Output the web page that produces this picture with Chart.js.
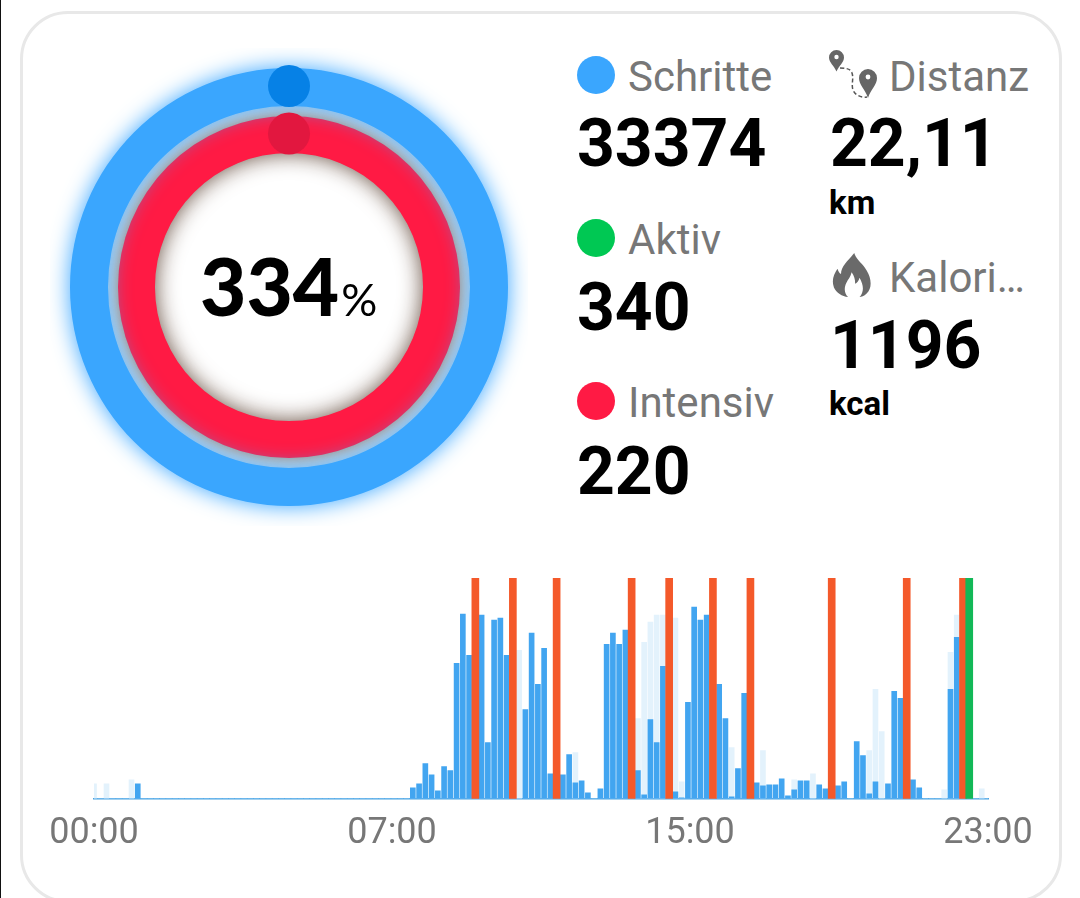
<!DOCTYPE html>
<html>
<head>
<meta charset="utf-8">
<title>Aktivitaet</title>
<script src="https://cdn.jsdelivr.net/npm/chart.js@4"></script>
<style>
    html, body { margin: 0; padding: 0; width: 1080px; height: 898px; overflow: hidden; background: #fff; font-family: Roboto, sans-serif; }
    .edge { position: absolute; top: 0; left: 0; width: 1px; height: 898px; background: #111; }
    .card { position: absolute; left: 20px; top: 11px; width: 1036px; height: 886px; border: 3px solid #e8e8e8; border-radius: 48px; }
    canvas { position: absolute; }
    .t { position: absolute; white-space: nowrap; line-height: 1; }
    .label { font-size: 42px; color: #777; }
    .value { font-size: 66px; font-weight: 700; color: #000; }
    .unit { font-size: 33px; font-weight: 700; color: #000; }
    .dot { position: absolute; width: 38px; height: 38px; border-radius: 50%; }
    .center { font-family: Lato, sans-serif; font-weight: 900; color: #000; }
</style>
</head>
<body>
<div class="edge"></div>
<div class="card"></div>
<canvas id="ringChart" width="478" height="478" style="left:50px;top:47.5px"></canvas>
<canvas id="stepChart" width="1080" height="320" style="left:0;top:560px"></canvas>

<div class="t center" style="left:200px;top:245px;font-size:80px">334<span style="font-size:45px;font-weight:400;margin-left:2px">%</span></div>

<div class="dot" style="left:577px;top:56px;background:#3aa6fe"></div>
<div class="t label" style="left:628px;top:56px">Schritte</div>
<div class="t value" style="left:577px;top:111px">33374</div>

<div class="dot" style="left:577px;top:219px;background:#00c853"></div>
<div class="t label" style="left:628px;top:219px">Aktiv</div>
<div class="t value" style="left:577px;top:275px">340</div>

<div class="dot" style="left:577px;top:382px;background:#ff1a44"></div>
<div class="t label" style="left:628px;top:382px">Intensiv</div>
<div class="t value" style="left:577px;top:439px">220</div>

<svg style="position:absolute;left:826px;top:48px" width="56" height="54" viewBox="0 0 56 54">
    <path d="M10.5 2a7.5 7.5 0 0 1 7.5 7.5c0 5-5 8-7.5 14c-2.5-6-7.5-9-7.5-14a7.5 7.5 0 0 1 7.5-7.5z" fill="#666"/>
    <circle cx="10.5" cy="9" r="2.2" fill="#fff"/>
    <path d="M42 21a9 9 0 0 1 9 9c0 7-6 11-9 20c-3-9-9-13-9-20a9 9 0 0 1 9-9z" fill="#666"/>
    <circle cx="42" cy="29" r="2.4" fill="#fff"/>
    <path d="M14 20c6 0 11 1 12 5c2 6-1 11 1 17c2 5 8 8 14 7" fill="none" stroke="#555" stroke-width="1.5" stroke-dasharray="4 2.5"/>
</svg>
<div class="t label" style="left:889px;top:56px">Distanz</div>
<div class="t value" style="left:830px;top:111px">22,11</div>
<div class="t unit" style="left:829px;top:186px">km</div>

<svg style="position:absolute;left:832px;top:252px" width="41" height="46" viewBox="0 0 46 52">
    <path d="M25 1c2 8 10 12 14 20c6 10 6 20 0 26c-3 3-6 4-8 4c5-6 5-13 0-22c-1 4-3 6-5 7c0-5-1-9-4-13c-1 5-4 8-6 12c-3 6-2 12 2 16c-7-1-13-5-16-11c-3-8 0-15 4-21c1 3 2 5 4 6c0-9 8-15 15-24z" fill="#6a6a6a"/>
</svg>
<div class="t label" style="left:889px;top:257px">Kalori…</div>
<div class="t value" style="left:830px;top:313px">1196</div>
<div class="t unit" style="left:829px;top:387px">kcal</div>

<script>
// Ring values (percent of goal, capped to a full circle) and the spacer between the rings
const rings = { steps: 334, intense: 220 };

// Steps per 10 minutes, 144 slots
const steps = [
    0, 0, 0, 0, 0, 0, 0, 15, 0, 0, 0, 0,
    0, 0, 0, 0, 0, 0, 0, 0, 0, 0, 0, 0,
    0, 0, 0, 0, 0, 0, 0, 0, 0, 0, 0, 0,
    0, 0, 0, 0, 0, 0, 0, 0, 0, 0, 0, 0,
    0, 0, 0, 11, 15, 35, 24, 8, 32, 28, 135, 184,
    143, 0, 183, 56, 178, 180, 143, 0, 0, 89, 165, 114,
    150, 25, 0, 24, 44, 16, 18, 6, 0, 10, 154, 165,
    154, 168, 0, 28, 4, 79, 56, 132, 0, 7, 1, 96,
    191, 178, 183, 0, 114, 80, 2, 30, 105, 0, 16, 13,
    14, 14, 20, 3, 9, 18, 18, 0, 14, 10, 0, 13,
    17, 0, 57, 43, 5, 17, 0, 15, 107, 100, 0, 19,
    11, 0, 0, 0, 0, 109, 161, 0, 0, 0, 0, 0
];
const paleSteps = [
    15, 0, 15, 0, 0, 0, 19, 0, 0, 0, 0, 0,
    0, 0, 0, 0, 0, 0, 0, 0, 0, 0, 0, 0,
    0, 0, 0, 0, 0, 0, 0, 0, 0, 0, 0, 0,
    0, 0, 0, 0, 0, 0, 0, 0, 0, 0, 0, 0,
    0, 0, 0, 0, 0, 0, 0, 0, 0, 0, 0, 0,
    0, 0, 0, 0, 0, 0, 0, 0, 148, 0, 0, 0,
    0, 0, 0, 0, 0, 46, 0, 0, 0, 0, 0, 0,
    0, 0, 0, 80, 156, 176, 183, 183, 0, 180, 17, 0,
    0, 0, 0, 0, 0, 0, 51, 0, 0, 0, 0, 48,
    0, 0, 0, 0, 19, 0, 0, 25, 0, 0, 0, 0,
    0, 0, 0, 0, 48, 109, 67, 0, 0, 0, 0, 0,
    0, 0, 0, 0, 9, 146, 183, 0, 0, 0, 10, 0
];
const intenseSlots = [61, 67, 74, 86, 92, 99, 105, 118, 130, 139];
const activeSlots = [140];
const FULL = 220;
const timeLabels = ['00:00', '07:00', '15:00', '23:00'];

const toPoints = arr => arr.map((v, i) => ({ x: i, y: v }));
const toFull = slots => slots.map(i => ({ x: i, y: FULL }));

// Glow around the rings, and the two round handles at 12 o'clock
const ringGlow = {
    id: 'ringGlow',
    beforeDatasetDraw(chart, args) {
        const ctx = chart.ctx;
        ctx.save();
        if (args.index === 0) {
            ctx.shadowColor = 'rgba(58, 166, 254, 1)';
            ctx.shadowBlur = 22;
        } else if (args.index === 2) {
            ctx.shadowColor = 'rgba(95, 70, 55, 0.95)';
            ctx.shadowBlur = 22;
        }
    },
    afterDatasetDraw(chart) {
        chart.ctx.restore();
    },
    afterDraw(chart) {
        const ctx = chart.ctx;
        [[0, '#0681e6'], [2, '#e2173f']].forEach(([index, color]) => {
            const arc = chart.getDatasetMeta(index).data[0];
            const r = (arc.innerRadius + arc.outerRadius) / 2;
            ctx.beginPath();
            ctx.arc(arc.x, arc.y - r - 1, 21, 0, Math.PI * 2);
            ctx.fillStyle = color;
            ctx.fill();
        });
    }
};

new Chart(document.getElementById('ringChart').getContext('2d'), {
    type: 'doughnut',
    data: {
        labels: ['Ring'],
        datasets: [
            { data: [rings.steps], backgroundColor: '#3aa6fe', borderWidth: 0, weight: 38 },
            { data: [1], backgroundColor: 'rgba(0, 0, 0, 0)', borderWidth: 0, weight: 10 },
            { data: [rings.intense], backgroundColor: '#ff1a44', borderWidth: 0, weight: 37 }
        ]
    },
    options: {
        responsive: false,
        animation: false,
        cutout: '61.2%',
        layout: { padding: 20 },
        plugins: { legend: { display: false }, tooltip: { enabled: false } }
    },
    plugins: [ringGlow]
});

new Chart(document.getElementById('stepChart').getContext('2d'), {
    type: 'bar',
    data: {
        datasets: [
            { label: 'Aktiv', data: toFull(activeSlots), backgroundColor: '#12b857', barThickness: 7 },
            { label: 'Intensiv', data: toFull(intenseSlots), backgroundColor: '#f4592a', barThickness: 7 },
            { label: 'Schritte', data: toPoints(steps), backgroundColor: '#42a5f0', barThickness: 5 },
            { label: 'Schritte (blass)', data: toPoints(paleSteps), backgroundColor: '#e3f2fc', barThickness: 5 }
        ]
    },
    options: {
        responsive: false,
        animation: false,
        layout: { padding: { left: 94, right: 92, top: 18, bottom: 10 } },
        plugins: { legend: { display: false }, tooltip: { enabled: false } },
        datasets: { bar: { grouped: false } },
        scales: {
            x: {
                type: 'linear',
                offset: false,
                min: 0,
                max: 143,
                grid: { display: false, drawTicks: false },
                border: { color: '#4aa3e0', width: 1.5 },
                afterBuildTicks: axis => {
                    axis.ticks = timeLabels.map((_, i) => ({ value: i * 143 / 3 }));
                },
                ticks: {
                    autoSkip: false,
                    maxRotation: 0,
                    padding: 14,
                    color: '#777',
                    font: { family: 'Roboto', size: 36 },
                    callback: (value, index) => timeLabels[index]
                }
            },
            y: { display: false, min: 0, max: FULL, beginAtZero: true }
        }
    }
});
</script>
</body>
</html>
